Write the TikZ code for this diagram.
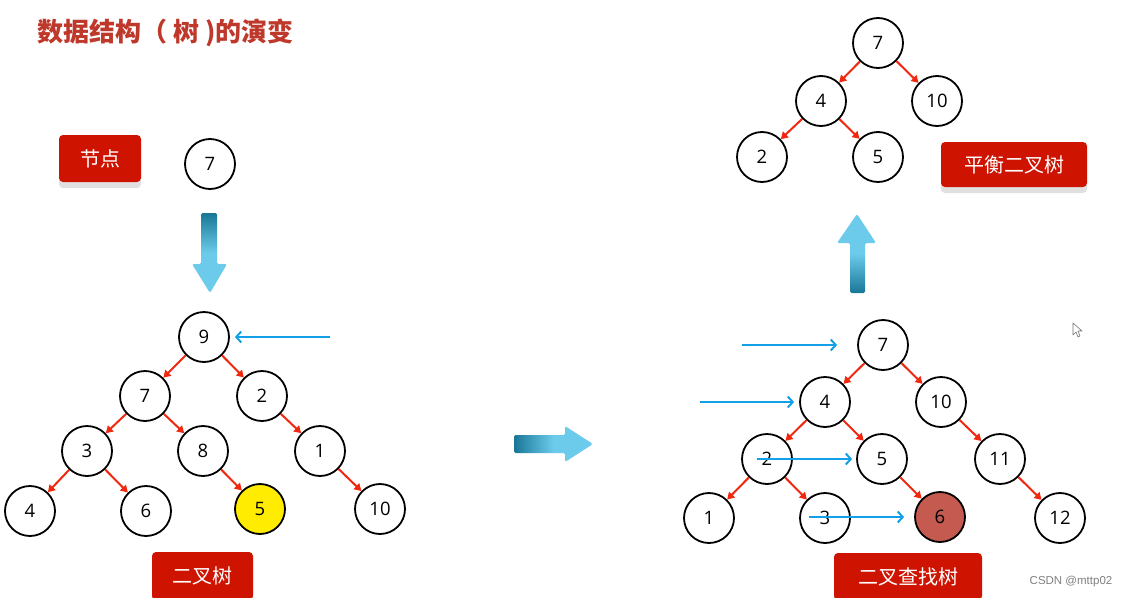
\documentclass[tikz,border=0pt]{standalone}
\usepackage{fontspec}
\setmainfont{Open Sans}
\newfontfamily\cjk{Noto Sans CJK SC}
\newfontfamily\wmfont{Liberation Sans}
\usetikzlibrary{arrows.meta,shadows}
\definecolor{titlered}{RGB}{190,57,43}
\definecolor{labelred}{RGB}{206,20,0}
\definecolor{edgered}{RGB}{240,40,15}
\definecolor{blueline}{RGB}{20,160,230}
\definecolor{adark}{RGB}{25,118,150}
\definecolor{alight}{RGB}{108,203,235}
\definecolor{hotnode}{RGB}{196,90,80}
\definecolor{yellownode}{RGB}{255,236,0}
\tikzset{
  tn/.style={circle,draw=black,line width=1.8pt,minimum size=50pt,inner sep=0pt,fill=white,font=\fontsize{18.5}{20}\selectfont},
  redge/.style={draw=edgered,line width=2pt,-{Triangle[length=7pt,width=8pt]}},
  bluearrow/.style={draw=blueline,line width=2pt,-{Straight Barb[length=5pt,width=11pt]}},
  tag/.style={fill=labelred,rounded corners=4pt,text=white,inner sep=0pt,
    font=\cjk\fontsize{20}{24}\selectfont,
    drop shadow={shadow xshift=0pt,shadow yshift=-6pt,fill=black!12,opacity=1}},
}
\begin{document}
\begin{tikzpicture}[x=1pt,y=-1pt]
\useasboundingbox (0,0) rectangle (1127,597);
\fill[white] (0,0) rectangle (1127,597);

% title
\node[anchor=west,text=titlered,font=\cjk\bfseries\fontsize{26}{30}\selectfont,inner sep=0pt] (title) at (37,33) {数据结构（ 树 )的演变};

% node label
\node[tag,minimum width=82pt,minimum height=47pt] (lnode) at (100,158.5) {节点};
\node[tn] (single) at (210,164) {7};

% down arrow
\shade[top color=adark,bottom color=alight,middle color=alight,rounded corners=1.5pt]
  (201,213) -- (217,213) -- (217,264) -- (227,264) -- (210,293) -- (192,264) -- (201,264) -- cycle;

% left binary tree
\node[tn] (a9) at (204,337) {9};
\node[tn] (a7) at (145,396) {7};
\node[tn] (a2) at (262,396) {2};
\node[tn] (a3) at (87,451) {3};
\node[tn] (a8) at (203,451) {8};
\node[tn] (a1) at (320,451) {1};
\node[tn] (a4) at (30,511) {4};
\node[tn] (a6) at (146,511) {6};
\node[tn,fill=yellownode] (a5) at (260,509) {5};
\node[tn] (a10) at (380,509) {10};
\foreach \p/\c in {a9/a7,a9/a2,a7/a3,a7/a8,a2/a1,a3/a4,a3/a6,a8/a5,a1/a10}
  \draw[redge] (\p) -- (\c);
\coordinate (lbstart) at (330,337);
\draw[bluearrow] (lbstart) -- ([xshift=5pt]a9.east);
\node[tag,minimum width=101pt,minimum height=48pt] (lbt) at (202.5,576) {二叉树};

% right arrow
\shade[left color=adark,right color=alight,middle color=alight,rounded corners=1.5pt]
  (514,435) -- (565,435) -- (565,426) -- (593,444) -- (565,462) -- (565,453) -- (514,453) -- cycle;

% binary search tree
\node[tn] (b7) at (883,345) {7};
\node[tn] (b4) at (825,402) {4};
\node[tn] (b10) at (941,402) {10};
\node[tn] (b2) at (767,459) {2};
\node[tn] (b5) at (882,459) {5};
\node[tn] (b11) at (1000,459) {11};
\node[tn] (b1) at (709,518) {1};
\node[tn] (b3) at (825,518) {3};
\node[tn,fill=hotnode] (b6) at (940,517) {6};
\node[tn] (b12) at (1060,518) {12};
\foreach \p/\c in {b7/b4,b7/b10,b4/b2,b4/b5,b10/b11,b2/b1,b2/b3,b5/b6,b11/b12}
  \draw[redge] (\p) -- (\c);
\coordinate (s1) at (742,345);
\coordinate (s2) at (700,402);
\coordinate (s3) at (757,459);
\coordinate (s4) at (809,517);
\draw[bluearrow] (s1) -- ([xshift=-20pt]b7.west);
\draw[bluearrow] (s2) -- ([xshift=-5pt]b4.west);
\draw[bluearrow] (s3) -- ([xshift=-4pt]b5.west);
\draw[bluearrow] (s4) -- ([xshift=-10pt]b6.west);
\node[tag,minimum width=148pt,minimum height=47pt] (lbst) at (908,576.5) {二叉查找树};

% up arrow
\shade[top color=alight,bottom color=adark,middle color=alight,rounded corners=1.5pt]
  (850,293) -- (850,243) -- (837,243) -- (857,214) -- (876,243) -- (865,243) -- (865,293) -- cycle;

% balanced tree
\node[tn] (c7) at (878,43) {7};
\node[tn] (c4) at (821,101) {4};
\node[tn] (c10) at (937,101) {10};
\node[tn] (c2) at (762,157) {2};
\node[tn] (c5) at (878,157) {5};
\foreach \p/\c in {c7/c4,c7/c10,c4/c2,c4/c5}
  \draw[redge] (\p) -- (\c);
\node[tag,minimum width=146pt,minimum height=45pt] (lavl) at (1014,164.5) {平衡二叉树};

% mouse cursor
\draw[black!55,fill=white,line width=0.6pt,line join=round]
  (1073,323) -- (1073,335) -- (1076,332) -- (1078,337) -- (1080,336) -- (1078,331) -- (1082,331) -- cycle;

% watermark
\node[text=black!50,font=\wmfont\fontsize{11.5}{13}\selectfont,inner sep=0pt] (wm) at (1071,582) {CSDN @mttp02};
\end{tikzpicture}
\end{document}
